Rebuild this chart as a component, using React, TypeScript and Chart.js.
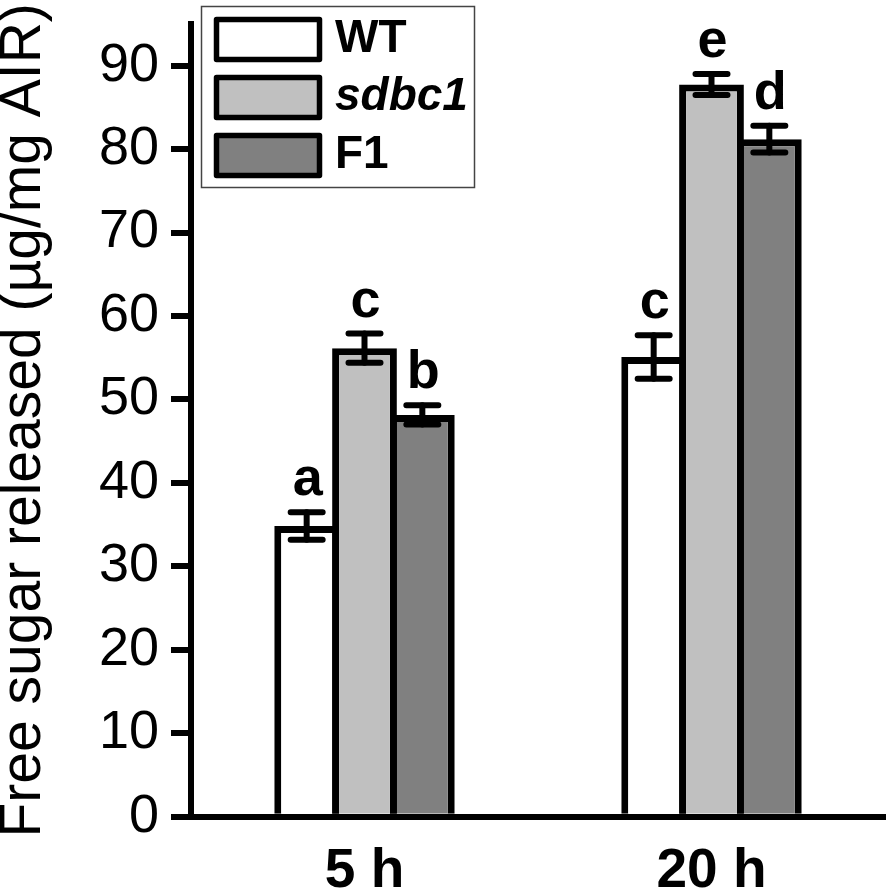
import React, { useEffect, useRef } from 'react';
import { Chart, registerables } from 'chart.js';

Chart.register(...registerables);

// ---- Data ----
const categories = ['5 h', '20 h'];
const seriesNames = ['WT', 'sdbc1', 'F1'];
const wtValues = [34.85, 55.1];
const sdbc1Values = [56.15, 87.75];
const f1Values = [48.15, 81.2];
const wtErrors = [1.65, 2.6];
const sdbc1Errors = [1.75, 1.25];
const f1Errors = [1.15, 1.6];
const wtLetters = ['a', 'c'];
const sdbc1Letters = ['c', 'e'];
const f1Letters = ['b', 'd'];
const yTickValues = [0, 10, 20, 30, 40, 50, 60, 70, 80, 90];
const yAxisMax = 95;
const yAxisTitle = 'Free sugar released (\u00b5g/mg AIR)';

const FONT = "'Liberation Sans', Arial, Helvetica, sans-serif";

const errorBarPlugin = {
  id: 'errorBarsAndLetters',
  afterDatasetsDraw(chart: any) {
    const ctx = chart.ctx;
    const yScale = chart.scales.y;
    chart.data.datasets.forEach((ds: any, di: number) => {
      const meta = chart.getDatasetMeta(di);
      meta.data.forEach((bar: any, i: number) => {
        const v = ds.data[i];
        const e = ds.errors[i];
        const yT = yScale.getPixelForValue(v + e);
        const yB = yScale.getPixelForValue(v - e);
        const x = bar.x;
        ctx.save();
        ctx.strokeStyle = '#000';
        ctx.lineCap = 'round';
        ctx.lineWidth = 6;
        ctx.beginPath();
        ctx.moveTo(x, yT);
        ctx.lineTo(x, yB);
        ctx.stroke();
        ctx.lineWidth = 6;
        ctx.beginPath();
        ctx.moveTo(x - 16, yT);
        ctx.lineTo(x + 16, yT);
        ctx.moveTo(x - 16, yB);
        ctx.lineTo(x + 16, yB);
        ctx.stroke();
        ctx.fillStyle = '#000';
        ctx.font = `bold 54px ${FONT}`;
        ctx.textAlign = 'center';
        ctx.textBaseline = 'alphabetic';
        ctx.fillText(ds.letters[i], x + 1, yT - 17);
        ctx.restore();
      });
    });
  },
};

const legendPlugin = {
  id: 'boxLegend',
  afterDraw(chart: any) {
    const ctx = chart.ctx;
    ctx.save();
    ctx.strokeStyle = '#444';
    ctx.lineWidth = 1.5;
    ctx.strokeRect(201.5, 6.5, 273, 181);
    chart.data.datasets.forEach((ds: any, i: number) => {
      const cy = 39.5 + i * 58;
      ctx.fillStyle = ds.backgroundColor;
      ctx.strokeStyle = '#000';
      ctx.lineWidth = 5.5;
      ctx.lineJoin = 'round';
      ctx.beginPath();
      ctx.rect(216.5, cy - 20, 103, 40);
      ctx.fill();
      ctx.stroke();
      ctx.fillStyle = '#000';
      ctx.font = `${ds.italicLabel ? 'italic ' : ''}bold 46px ${FONT}`;
      ctx.textAlign = 'left';
      ctx.textBaseline = 'middle';
      ctx.fillText(ds.label, 335, cy);
    });
    ctx.restore();
  },
};

export default function App() {
  const canvasRef = useRef<HTMLCanvasElement | null>(null);

  useEffect(() => {
    const canvas = canvasRef.current;
    if (!canvas) return;
    const common = {
      borderColor: '#000',
      borderWidth: 7,
      borderSkipped: 'start',
      barPercentage: 1.12,
      categoryPercentage: 0.5,
    };
    const chart = new Chart(canvas, {
      type: 'bar',
      data: {
        labels: categories,
        datasets: [
          { ...common, label: seriesNames[0], data: wtValues, backgroundColor: '#ffffff', errors: wtErrors, letters: wtLetters } as any,
          { ...common, label: seriesNames[1], data: sdbc1Values, backgroundColor: '#c0c0c0', errors: sdbc1Errors, letters: sdbc1Letters, italicLabel: true } as any,
          { ...common, label: seriesNames[2], data: f1Values, backgroundColor: '#808080', errors: f1Errors, letters: f1Letters } as any,
        ],
      },
      options: {
        responsive: false,
        animation: false,
        devicePixelRatio: 1,
        layout: { padding: { top: 24, right: 9, left: 0, bottom: 0 } },
        plugins: {
          legend: { display: false },
          tooltip: { enabled: false },
        },
        scales: {
          x: {
            grid: { display: false, drawTicks: false },
            border: { display: true, width: 6, color: '#000' },
            ticks: {
              color: '#000',
              padding: 22,
              font: { family: FONT, size: 55, weight: 'bold' },
            },
            afterFit(scale: any) {
              scale.height = 74.3;
              scale.paddingLeft = 0;
              scale.paddingRight = 0;
            },
          },
          y: {
            min: 0,
            max: yAxisMax,
            grid: {
              drawOnChartArea: false,
              drawTicks: true,
              tickLength: 20,
              lineWidth: 6,
              tickColor: '#000',
              color: '#000',
            },
            border: { display: true, width: 6, color: '#000' },
            ticks: {
              color: '#000',
              padding: 12,
              includeBounds: false,
              font: { family: FONT, size: 54 },
            },
            afterBuildTicks(scale: any) {
              scale.ticks = yTickValues.map((v) => ({ value: v }));
            },
            title: {
              display: true,
              text: yAxisTitle,
              color: '#000',
              padding: 0,
              font: { family: FONT, size: 57, lineHeight: 0.86 },
            },
            afterFit(scale: any) {
              scale.width = 191;
              scale.paddingTop = 0;
              scale.paddingBottom = 0;
            },
          },
        },
      },
      plugins: [errorBarPlugin, legendPlugin],
    } as any);
    return () => chart.destroy();
  }, []);

  return (
    <canvas
      ref={canvasRef}
      width={894}
      height={891}
      style={{ position: 'absolute', left: 0, top: 0, width: 894, height: 891 }}
    />
  );
}
